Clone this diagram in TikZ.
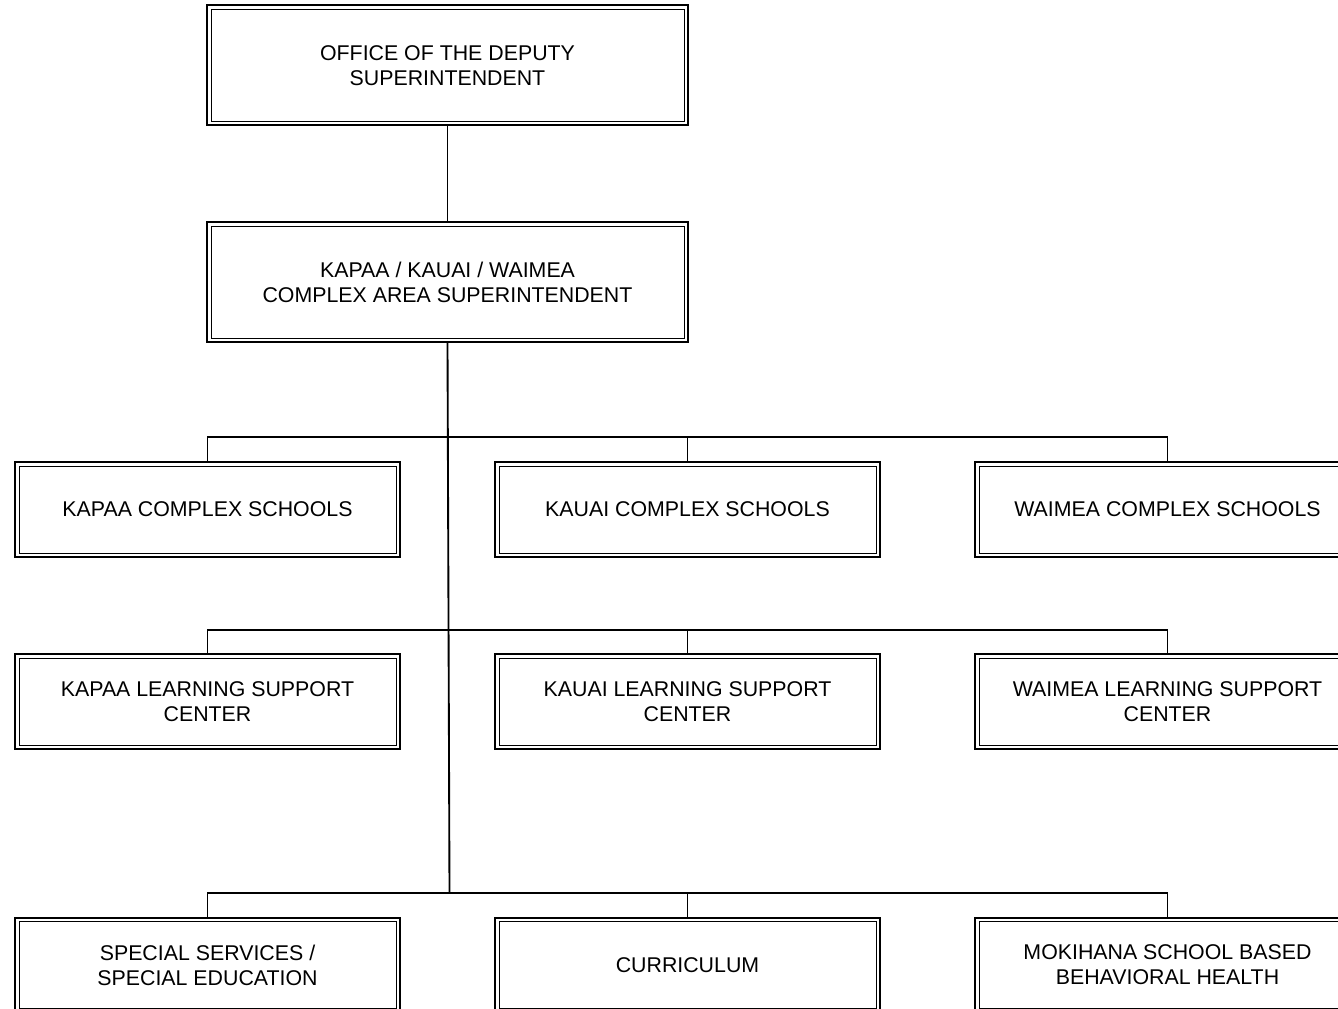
\documentclass[tikz,border=0pt]{standalone}
\usepackage{fontspec}
\setmainfont{Liberation Sans}
\usepackage{tikz}
\usetikzlibrary{calc, positioning}

\tikzset{
  unit/.style={draw, line width=1.5pt, align=center, inner sep=0pt,
    font=\fontsize{16}{18.75}\selectfont,
    append after command={\pgfextra{\draw[line width=0.7pt]
      ($(\tikzlastnode.north west)+(3.75pt,-3.75pt)$) rectangle
      ($(\tikzlastnode.south east)+(-3.75pt,3.75pt)$);}}},
  head/.style={unit, minimum width=360.75pt, minimum height=90pt},
  dept/.style={unit, minimum width=288.75pt, minimum height=71.25pt},
  link/.style={line width=1.4pt}
}

\begin{document}
\begin{tikzpicture}[x=0.75pt, y=-0.75pt]
    \useasboundingbox (0,0) rectangle (1338,1009);
    \clip (0,0) rectangle (1338,1009);

    % Top of the chart
    \node[head] (dep) at (447.5, 65.5) {OFFICE OF THE DEPUTY\\SUPERINTENDENT};
    \node[head] (cas) at (447.5, 282) {KAPAA / KAUAI / WAIMEA\\COMPLEX AREA SUPERINTENDENT};

    % Complex schools
    \node[dept] (kapaa) at (207.5, 509.5) {KAPAA COMPLEX SCHOOLS};
    \node[dept] (kauai) at (687.5, 509.5) {KAUAI COMPLEX SCHOOLS};
    \node[dept] (waimea) at (1167.5, 509.5) {WAIMEA COMPLEX SCHOOLS};

    % Learning support centers
    \node[dept] (kapaalsc) at (207.5, 701.5) {KAPAA LEARNING SUPPORT\\CENTER};
    \node[dept] (kauailsc) at (687.5, 701.5) {KAUAI LEARNING SUPPORT\\CENTER};
    \node[dept] (waimealsc) at (1167.5, 701.5) {WAIMEA LEARNING SUPPORT\\CENTER};

    % Services
    \node[dept] (sped) at (207.5, 965) {SPECIAL SERVICES /\\SPECIAL EDUCATION};
    \node[dept] (curr) at (687.5, 965) {CURRICULUM};
    \node[dept] (mokihana) at (1167.5, 965) {MOKIHANA SCHOOL BASED\\BEHAVIORAL HEALTH};

    % Bus points on the trunk
    \coordinate (bus1) at (448, 437);
    \coordinate (bus2) at (448.5, 630);
    \coordinate (bus3) at (449.5, 893);

    % Connectors
    \draw[link] (dep.south) -- (cas.north);
    \draw[link] (cas.south) -- (bus3);

    \draw[link] (kapaa.north) |- (bus1) -| (waimea.north);
    \draw[link] (kauai.north) -- (kauai.north |- bus1);

    \draw[link] (kapaalsc.north) |- (bus2) -| (waimealsc.north);
    \draw[link] (kauailsc.north) -- (kauailsc.north |- bus2);

    \draw[link] (sped.north) |- (bus3) -| (mokihana.north);
    \draw[link] (curr.north) -- (curr.north |- bus3);
\end{tikzpicture}
\end{document}
